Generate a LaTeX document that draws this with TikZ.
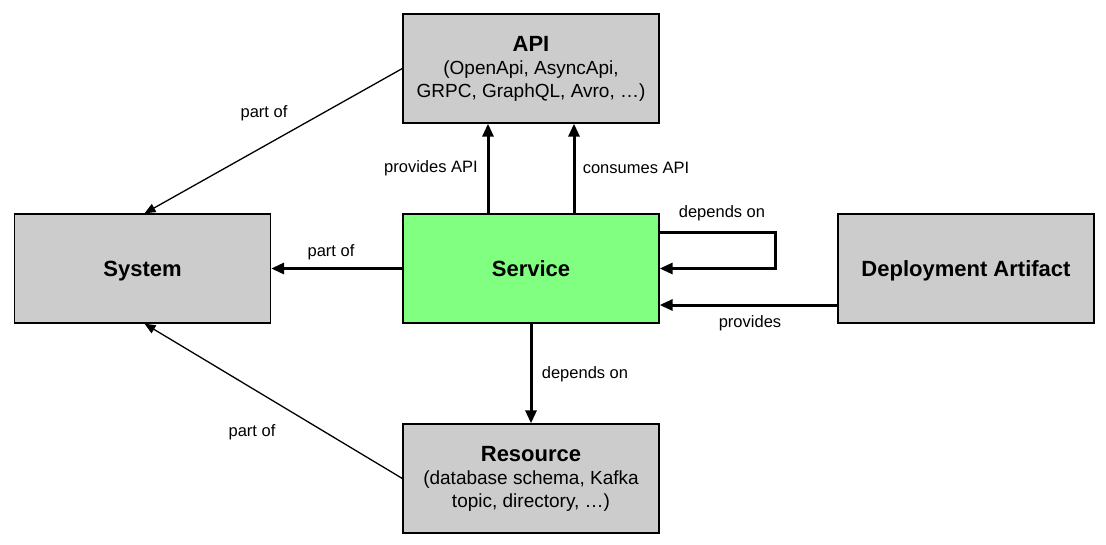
\documentclass[tikz,border=0pt]{standalone}
\usepackage{fontspec}
\setmainfont{Liberation Sans}
\usetikzlibrary{arrows.meta}
\definecolor{boxgray}{HTML}{CCCCCC}
\definecolor{svcgreen}{HTML}{80FF80}
\begin{document}
\begin{tikzpicture}[x=1pt,y=-1pt,
  box/.style={draw=black, line width=1.3pt, fill=boxgray, minimum width=256pt, minimum height=109pt, inner sep=0pt, align=center, font=\fontsize{19}{23}\selectfont},
  single/.style={text depth=0pt, text height=16pt},
  thickarrow/.style={line width=3pt, -{Triangle[length=13pt,width=11pt]}},
  thinarrow/.style={line width=1.3pt, -{Triangle[length=11pt,width=9pt]}},
  lbl/.style={font=\fontsize{16.5}{19}\selectfont, inner sep=0pt}]
\useasboundingbox (0,0) rectangle (1106,544);
\fill[white] (0,0) rectangle (1106,544);

\node[box] (api) at (531,68.5) {{\fontsize{22}{24}\selectfont\bfseries API}\\(OpenApi, AsyncApi,\\GRPC, GraphQL, Avro, …)};
\node[box, single] (sys) at (142.5,268.5) {\fontsize{22}{24}\selectfont\bfseries System};
\node[box, single, fill=svcgreen] (svc) at (531,268.5) {\fontsize{22}{24}\selectfont\bfseries Service};
\node[box, single] (dep) at (966,268.5) {\fontsize{22}{24}\selectfont\bfseries Deployment Artifact};
\node[box] (res) at (531,478.5) {{\fontsize{22}{24}\selectfont\bfseries Resource}\\(database schema, Kafka\\topic, directory, …)};

\draw[thickarrow] ([xshift=-43pt]svc.north) -- ([xshift=-43pt]api.south);
\draw[thickarrow] ([xshift=43pt]svc.north) -- ([xshift=43pt]api.south);
\draw[thickarrow] (svc.west) -- (sys.east);
\draw[thickarrow] ([yshift=36.5pt]svc.east) -- ++(116,0) |- (svc.east);
\draw[thickarrow] ([yshift=-36.5pt]dep.west) -- ([yshift=-36.5pt]svc.east);
\draw[thickarrow] (svc.south) -- (res.north);
\draw[thinarrow] (api.west) -- ([xshift=2pt]sys.north);
\draw[thinarrow] (res.west) -- ([xshift=2pt]sys.south);

\node[lbl] (l1) at (264,113) {part of};
\node[lbl] (l2) at (431,168) {provides API};
\node[lbl] (l3) at (636,168) {consumes API};
\node[lbl] (l4) at (331,252) {part of};
\node[lbl] (l5) at (722,213) {depends on};
\node[lbl] (l6) at (750,323) {provides};
\node[lbl] (l7) at (585,374) {depends on};
\node[lbl] (l8) at (252,432) {part of};
\end{tikzpicture}
\end{document}
